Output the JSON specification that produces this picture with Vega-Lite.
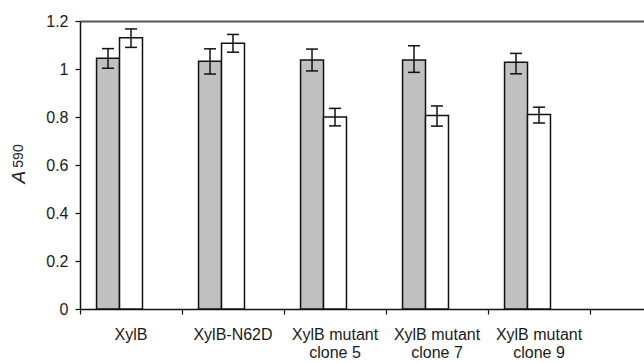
{
  "$schema": "https://vega.github.io/schema/vega-lite/v6.json",
  "width": 564,
  "height": 288,
  "autosize": "none",
  "padding": {"left": 80, "top": 21, "right": 0, "bottom": 54},
  "background": "white",
  "view": {"stroke": null},
  "config": {
    "font": "Liberation Sans",
    "axis": {"grid": false, "labelColor": "#1a1a1a", "labelFontSize": 16, "domainColor": "#111", "domainWidth": 1.5, "tickColor": "#111", "tickWidth": 1.2},
    "axisY": {"tickSize": 5, "labelPadding": 7}
  },
  "title": {"text": "590", "orient": "left", "fontSize": 14, "fontWeight": "normal", "color": "#222", "anchor": "middle", "offset": -17, "dx": 9},
  "data": {"values": [
    {"cat": "XylB", "series": "g", "value": 1.045, "lo": 1.003, "hi": 1.085},
    {"cat": "XylB", "series": "w", "value": 1.13, "lo": 1.09, "hi": 1.167},
    {"cat": "XylB-N62D", "series": "g", "value": 1.032, "lo": 0.979, "hi": 1.084},
    {"cat": "XylB-N62D", "series": "w", "value": 1.107, "lo": 1.07, "hi": 1.144},
    {"cat": "XylB mutant clone 5", "series": "g", "value": 1.038, "lo": 0.992, "hi": 1.083},
    {"cat": "XylB mutant clone 5", "series": "w", "value": 0.8, "lo": 0.763, "hi": 0.836},
    {"cat": "XylB mutant clone 7", "series": "g", "value": 1.038, "lo": 0.986, "hi": 1.097},
    {"cat": "XylB mutant clone 7", "series": "w", "value": 0.806, "lo": 0.762, "hi": 0.846},
    {"cat": "XylB mutant clone 9", "series": "g", "value": 1.028, "lo": 0.98, "hi": 1.065},
    {"cat": "XylB mutant clone 9", "series": "w", "value": 0.81, "lo": 0.775, "hi": 0.841}
  ]},
  "resolve": {"axis": {"x": "independent"}},
  "layer": [
    {
      "mark": {"type": "bar", "stroke": "#111", "strokeWidth": 1.5},
      "encoding": {
        "x": {"field": "cat", "type": "nominal", "sort": null,
          "scale": {"domain": ["XylB", "XylB-N62D", "XylB mutant clone 5", "XylB mutant clone 7", "XylB mutant clone 9", " "], "range": [0, 612], "paddingInner": 0, "paddingOuter": 0},
          "axis": {"orient": "bottom", "title": null, "labelAngle": 0, "bandPosition": 0, "tickSize": 5, "labelPadding": 12, "labelLineHeight": 18,
            "labelExpr": "indexof(datum.label, 'clone') > 0 ? ['XylB mutant', slice(datum.label, 12)] : datum.label"}},
        "xOffset": {"field": "series", "type": "nominal", "scale": {"domain": ["g", "w", "e"], "paddingInner": 0, "paddingOuter": 0.72}},
        "y": {"field": "value", "type": "quantitative", "title": "A",
          "scale": {"domain": [0, 1.2]},
          "axis": {"values": [0, 0.2, 0.4, 0.6, 0.8, 1, 1.2], "format": "~g", "titleAngle": 270, "titleAlign": "left", "titleBaseline": "alphabetic", "titleX": -56, "titleY": 162, "titleFontStyle": "italic", "titleFontSize": 19, "titleFontWeight": "normal", "titleColor": "#222"}},
        "fill": {"field": "series", "type": "nominal", "scale": {"domain": ["g", "w"], "range": ["#c0c0c0", "#ffffff"]}, "legend": null}
      }
    },
    {
      "mark": {"type": "rule", "stroke": "#111", "strokeWidth": 1.5},
      "encoding": {
        "x": {"field": "cat", "type": "nominal", "sort": null,
          "axis": {"orient": "top", "title": null, "labels": false, "ticks": false, "domain": true, "domainColor": "#555", "domainWidth": 2}},
        "xOffset": {"field": "series", "type": "nominal"},
        "y": {"field": "lo", "type": "quantitative", "title": "A"},
        "y2": {"field": "hi"}
      }
    },
    {
      "mark": {"type": "tick", "color": "#111", "size": 12, "thickness": 1.5, "opacity": 1},
      "encoding": {
        "x": {"field": "cat", "type": "nominal", "sort": null, "axis": null},
        "xOffset": {"field": "series", "type": "nominal"},
        "y": {"field": "lo", "type": "quantitative", "title": "A"}
      }
    },
    {
      "mark": {"type": "tick", "color": "#111", "size": 12, "thickness": 1.5, "opacity": 1},
      "encoding": {
        "x": {"field": "cat", "type": "nominal", "sort": null, "axis": null},
        "xOffset": {"field": "series", "type": "nominal"},
        "y": {"field": "hi", "type": "quantitative", "title": "A"}
      }
    }
  ]
}
